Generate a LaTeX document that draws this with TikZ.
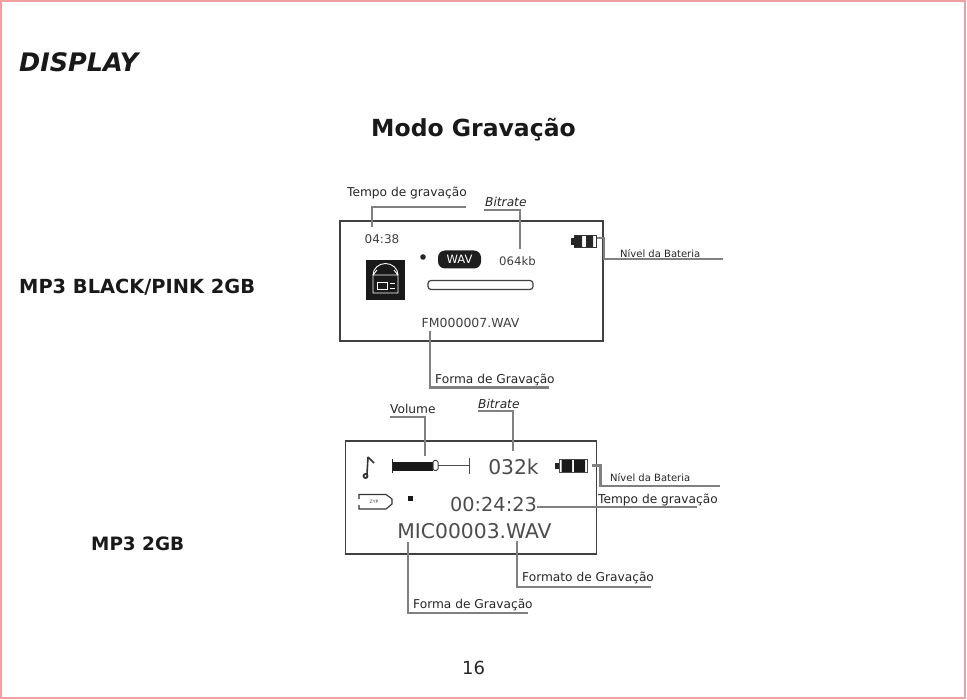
\documentclass[tikz,border=0pt]{standalone}
\usepackage{fontspec}
\setmainfont{DejaVu Sans}
\usetikzlibrary{positioning,calc}

\begin{document}
\begin{tikzpicture}
  [x=1pt,y=-1pt,line cap=butt,
  % Styles
  heading/.style={font=\bfseries\fontsize{23.5}{26}\selectfont,text=black!90,inner sep=0pt},
  model label/.style={font=\bfseries\fontsize{19.4}{22}\selectfont,text=black!90,anchor=west,inner sep=0pt},
  callout/.style={font=\fontsize{12.2}{14}\selectfont,text=black!85,inner sep=0pt,anchor=west},
  small callout/.style={font=\fontsize{10}{12}\selectfont,text=black!85,inner sep=0pt,anchor=west},
  screen text/.style={font=\fontsize{12}{14}\selectfont,text=black!75,inner sep=0pt},
  big screen text/.style={font=\fontsize{20.3}{23}\selectfont,text=black!70,inner sep=0pt},
  leader/.style={draw=leadercolor,line width=2.1pt},
  screen/.style={draw=black!75,line width=1.3pt}]
  % Colors
  \colorlet{leadercolor}{black!50}
  \definecolor{pagecolor}{RGB}{240,160,160}
  % The page
  \useasboundingbox (0,0) rectangle (967,700);
  \draw[pagecolor,line width=2pt] (1,1) rectangle (964.5,698);
  \node[heading,font=\bfseries\itshape\fontsize{25.5}{28}\selectfont,anchor=west] (display) at (19,62.5) {DISPLAY};
  \node[heading] (title) at (473.5,130) {Modo Gravação};
  \node[model label] (model a) at (19,287.5) {MP3 BLACK/PINK 2GB};
  \node[model label,font=\bfseries\fontsize{18.4}{22}\selectfont] (model b) at (91,543.5) {MP3 2GB};
  \node[font=\fontsize{18}{20}\selectfont,text=black!85,inner sep=0pt] (page) at (473.5,668) {16};
  % First screen
  \draw[screen] (340,221) rectangle (603,341);
  \node[screen text] (time a) at (382,239) {04:38};
  \node[screen text,font=\fontsize{11.7}{14}\selectfont] (rate a) at (517.5,261) {064kb};
  \node[screen text,font=\fontsize{12.5}{14}\selectfont] (file a) at (470.5,322.5) {FM000007.WAV};
  \fill[black!85] (423,257) circle (2.8);
  \node[fill=black!88,rounded corners=7pt,text=white,font=\fontsize{11.5}{13}\selectfont,minimum width=43pt,minimum height=18pt,inner sep=0pt] (wav a) at (459.5,259.5) {WAV};
  \draw[black!75,line width=1.2pt,rounded corners=3pt] (428,280.5) rectangle (533,289.5);
  \fill[black!90] (366,260) rectangle (405,300);
  \begin{scope}[draw=white,line width=.9pt]
    \draw (373,275) arc (180:360:12.5 and 11.5);
    \draw (373,275) -- (373,293) -- (398,293) -- (398,275) -- (394,270) (373,275) -- (377,270) (373,275) -- (398,275);
    \draw (377,282) rectangle (387,289);
    \draw (389.5,283) -- (394.5,283) (389.5,288) -- (394.5,288);
  \end{scope}
  \fill[black!85] (571,238) rectangle (574.5,245);
  \draw[black!80,line width=1pt] (574,235.5) rectangle (596.5,247.5);
  \fill[black!85] (574,236) rectangle (582,247) (586,236) rectangle (593,247);
  % Callouts of the first screen
  \node[callout] (tempo a) at (347,193.5) {Tempo de gravação};
  \node[callout,font=\itshape\fontsize{12.2}{14}\selectfont] (bitrate a) at (485,201.5) {Bitrate};
  \node[small callout] (bateria a) at (620,254) {Nível da Bateria};
  \node[callout] (forma a) at (435,380) {Forma de Gravação};
  \draw[leader] (372,227) -- (372,207) -- (466,207);
  \draw[leader] (484,210) -- (520,210) -- (520,249);
  \draw[leader] (597,238) -- (604,238) -- (604,259) -- (723,259);
  \draw[leader] (430,331) -- (430,387.5) -- (549,387.5);
  % Second screen
  \draw[screen] (345.5,441) rectangle (596.5,554);
  \node[big screen text] (rate b) at (513.5,467) {032k};
  \node[big screen text,font=\fontsize{19.3}{22}\selectfont] (clock b) at (493.5,504.5) {00:24:23};
  \node[big screen text] (file b) at (474.5,531.5) {MIC00003.WAV};
  \draw[black!80,line width=1.6pt] (368,457) -- (367,474) (368,457) -- (374,463);
  \draw[black!80,line width=1.8pt] (365.5,476) circle (2);
  \draw[black!85,line width=1pt] (392.5,459) -- (392.5,473);
  \fill[black!90] (393,462) rectangle (433,471);
  \draw[black!75,line width=1pt,rounded corners=1.5pt] (433,460.5) rectangle (438,470.5);
  \draw[black!70,line width=1pt] (438,465.5) -- (469,465.5) (469,458) -- (469,474);
  \draw[black!80,line width=1.1pt] (359,499) -- (359,494.5) -- (386,494.5) -- (392,499) -- (392,504) -- (386,509) -- (359,509) -- (359,505);
  \node[font=\fontsize{4.5}{5}\selectfont,text=black!75,inner sep=0pt] (mode b) at (374,501.5) {ZYP};
  \fill[black!90] (408,496) rectangle (413,501);
  \fill[black!85] (555,463) rectangle (560,469);
  \draw[black!70,line width=1pt] (559,459.5) rectangle (587.5,472.5);
  \fill[black!90] (561.5,460) rectangle (572,472) (574,460) rectangle (585,472);
  % Callouts of the second screen
  \node[callout] (volume b) at (390,408.5) {Volume};
  \node[callout,font=\itshape\fontsize{12.2}{14}\selectfont] (bitrate b) at (478,403.5) {Bitrate};
  \node[small callout] (bateria b) at (610,477.5) {Nível da Bateria};
  \node[callout] (tempo b) at (598,500.5) {Tempo de gravação};
  \node[callout] (formato b) at (522,578) {Formato de Gravação};
  \node[callout] (forma b) at (413,604.5) {Forma de Gravação};
  \draw[leader] (390,417) -- (425,417) -- (425,456);
  \draw[leader] (478,411) -- (513,411) -- (513,451);
  \draw[leader] (592,465.5) -- (600.5,465.5) -- (600.5,486) -- (720,486);
  \draw[leader] (537,507) -- (697,507);
  \draw[leader] (517,541) -- (517,587) -- (651,587);
  \draw[leader] (408,542) -- (408,613) -- (528,613);
\end{tikzpicture}
\end{document}
